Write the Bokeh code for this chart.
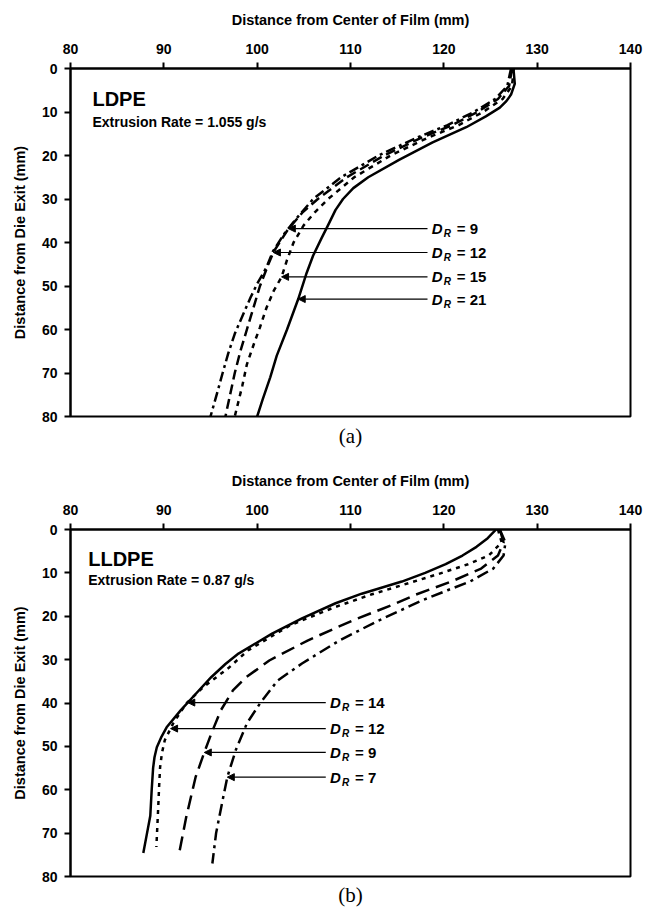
from bokeh.plotting import figure
from bokeh.layouts import column
from bokeh.models import Range1d, Title, Arrow, NormalHead, ColumnDataSource
from bokeh.core.properties import value
from bokeh.embed import file_html
from bokeh.resources import INLINE
import numpy as np

SANS = "Liberation Sans"
SERIF = "Liberation Serif"

x_ticks = [80, 90, 100, 110, 120, 130, 140]
y_ticks = [0, 10, 20, 30, 40, 50, 60, 70, 80]

# ---- LDPE, extrusion rate 1.055 g/s : bubble radius vs. height above die ----
ldpe_y_21 = [0, 1, 3.5, 6, 7.5, 9, 11, 13.5, 17, 21, 25, 27.5, 30, 32.5, 36, 39, 43,
             47, 53, 60, 66, 71, 76, 80]
ldpe_x_21 = [127.4, 127.5, 127.6, 127.2, 126.7, 126.0, 124.5, 122.4, 118.8, 115.2,
             111.9, 110.3, 109.2, 108.4, 107.6, 106.9, 106.0, 105.3, 104.4, 103.2,
             102.1, 101.4, 100.6, 100.0]

ldpe_y_15 = [0, 4, 7, 10, 13, 16, 20, 25, 30, 33, 36, 40, 44, 48, 51, 55, 59.5, 63,
             68, 73, 80]
ldpe_x_15 = [127.5, 127.3, 126.3, 124.2, 121.6, 118.2, 114.3, 110.4, 107.6, 106.2,
             105.0, 103.9, 103.2, 102.6, 101.8, 101.0, 100.3, 99.7, 98.9, 98.4, 97.6]

ldpe_y_12 = [0, 4, 7, 10, 13, 16, 20, 25, 30, 33, 37, 42, 45, 50, 55, 60, 65, 70, 75, 80]
ldpe_x_12 = [127.3, 127.0, 125.8, 123.6, 120.9, 117.5, 113.6, 109.6, 106.5, 104.9,
             103.3, 101.8, 101.2, 100.3, 99.6, 98.9, 98.2, 97.6, 97.1, 96.6]

ldpe_y_9 = [0, 4, 7, 10, 13, 16, 20, 25, 30, 35, 38, 42, 45.7, 49.5, 52.6, 57, 61,
            65.5, 70, 74.7, 80]
ldpe_x_9 = [127.2, 126.8, 125.5, 123.2, 120.4, 117.0, 113.0, 109.0, 106.0, 104.0,
            102.9, 101.7, 101.0, 100.0, 99.3, 98.4, 97.6, 96.9, 96.3, 95.7, 95.0]

# ---- LLDPE, extrusion rate 0.87 g/s ----
lldpe_y_14 = [0, 2, 4, 6, 8, 10, 12, 14.8, 17, 20.5, 24, 28.6, 31, 34, 37, 41.7, 45.6,
              48, 50.2, 52.5, 55, 60, 66, 70, 74.6]
lldpe_x_14 = [125.6, 124.7, 123.5, 122.0, 120.2, 118.0, 115.5, 111.2, 108.4, 104.8,
              101.6, 98.0, 96.6, 95.1, 93.8, 91.8, 90.3, 89.7, 89.25, 89.0, 88.85,
              88.7, 88.55, 88.2, 87.8]

lldpe_y_12 = [0, 3, 6, 8, 10, 12, 15, 18, 22, 27.9, 31.8, 36.4, 40.1, 44.7, 48.6,
              51.5, 54.8, 59, 64, 73.2]
lldpe_x_12 = [125.8, 126.2, 124.8, 122.6, 119.8, 116.8, 112.2, 108.2, 103.6, 99.0,
              97.0, 94.2, 92.4, 91.0, 90.1, 89.8, 89.6, 89.5, 89.4, 89.2]

lldpe_y_9 = [0, 3, 6, 9, 12, 15, 17.1, 21, 25.6, 30.2, 34.1, 37.1, 41.7, 47, 51.6,
             57.1, 66.3, 74]
lldpe_x_9 = [126.0, 126.4, 125.8, 124.0, 120.8, 117.0, 114.8, 110.2, 105.4, 101.3,
             98.8, 97.4, 96.1, 95.1, 94.3, 93.4, 92.4, 91.7]

lldpe_y_7 = [0, 3, 6, 9, 12, 14, 16.4, 21, 25.6, 30.9, 34.8, 40.1, 44.7, 50.9, 57.1,
             62.4, 70, 77]
lldpe_x_7 = [126.0, 126.6, 126.4, 125.3, 122.8, 120.4, 117.6, 113.0, 108.8, 104.8,
             102.2, 100.3, 98.9, 97.7, 96.8, 96.3, 95.6, 95.2]

# draw-ratio callouts: label and height of the arrow
ldpe_labels = ["9", "12", "15", "21"]
ldpe_label_y = [36.8, 42.3, 47.9, 53.0]
lldpe_labels = ["14", "12", "9", "7"]
lldpe_label_y = [39.9, 45.9, 51.4, 57.1]


def style_axes(p):
    p.grid.visible = False
    p.outline_line_color = "black"
    p.outline_line_width = 2
    p.outline_line_alpha = 1
    p.background_fill_color = "white"
    p.border_fill_color = "white"
    for ax in (p.xaxis[0], p.yaxis[0]):
        ax.axis_line_width = 2
        ax.axis_line_color = "black"
        ax.major_tick_line_width = 2
        ax.major_tick_line_color = "black"
        ax.major_tick_out = 6
        ax.major_tick_in = 0
        ax.minor_tick_out = 0
        ax.minor_tick_in = 0
        ax.major_label_text_font = SANS
        ax.major_label_text_font_size = "14px"
        ax.major_label_text_font_style = "bold"
        ax.major_label_text_color = "black"
        ax.axis_label_text_font = SANS
        ax.axis_label_text_font_size = "14.5px"
        ax.axis_label_text_font_style = "bold"
        ax.axis_label_text_color = "black"
    p.xaxis.ticker = x_ticks
    p.yaxis.ticker = y_ticks
    p.xaxis.axis_label = "Distance from Center of Film (mm)"
    p.yaxis.axis_label = "Distance from Die Exit (mm)"
    p.xaxis.major_label_standoff = 9
    p.yaxis.major_label_standoff = 7
    p.xaxis.axis_label_standoff = 13
    p.yaxis.axis_label_standoff = 11


def make_panel(height, borders, caption, caption_gap, material, rate, curves, labels,
               label_y, label_x):
    left, right, top, bottom = borders
    p = figure(width=654, height=height, x_range=Range1d(80, 140),
               y_range=Range1d(80, 0), x_axis_location="above",
               output_backend="svg", toolbar_location=None,
               min_border_left=left, min_border_right=right,
               min_border_top=top, min_border_bottom=bottom)
    style_axes(p)

    for xs, ys, dash in curves:
        p.line(xs, ys, line_color="black", line_width=2.5, line_dash=dash,
               line_cap="butt", line_join="round")

    # material name and extrusion rate
    mx, my_name, my_rate = material[1]
    p.text(x=[mx], y=[my_name], text=[material[0]], text_font=value(SANS),
           text_font_size="20px", text_font_style="bold", text_color="black",
           text_baseline="alphabetic")
    p.text(x=[mx], y=[my_rate], text=[rate], text_font=value(SANS),
           text_font_size="14px", text_font_style="bold", text_color="black",
           text_baseline="alphabetic")

    # arrows from each label to its curve at the same height
    tips = []
    for ly, (xs, ys, _) in zip(label_y, curves):
        tips.append(float(np.interp(ly, ys, xs)))
    n = len(labels)
    src = ColumnDataSource(dict(
        xs=[label_x - 0.45] * n, xe=tips, y=label_y,
        x=[label_x] * n, d=["D"] * n, r=["R"] * n,
        v=["= " + t for t in labels]))
    p.add_layout(Arrow(end=NormalHead(size=7, fill_color="black",
                                      line_color="black", line_width=1),
                       x_start="xs", y_start="y", x_end="xe", y_end="y",
                       line_color="black", line_width=1.2, source=src))
    p.text(x="x", y="y", text="d", source=src, text_font=value(SANS),
           text_font_size="15px", text_font_style="bold italic",
           text_color="black", text_baseline="middle")
    p.text(x="x", y="y", text="r", source=src, text_font=value(SANS),
           text_font_size="10px", text_font_style="bold italic",
           text_color="black", text_baseline="middle", x_offset=12, y_offset=5)
    p.text(x="x", y="y", text="v", source=src, text_font=value(SANS),
           text_font_size="15px", text_font_style="bold",
           text_color="black", text_baseline="middle", x_offset=25)

    p.add_layout(Title(text=caption, align="center", text_font=SERIF,
                       text_font_size="21px", text_font_style="normal",
                       text_color="black", standoff=caption_gap), "below")
    return p


# curves listed in the same order as their callout labels
ldpe_curves = [
    (ldpe_x_9, ldpe_y_9, "10 4 3 4"),
    (ldpe_x_12, ldpe_y_12, "10 5"),
    (ldpe_x_15, ldpe_y_15, "5 5"),
    (ldpe_x_21, ldpe_y_21, "solid"),
]
lldpe_curves = [
    (lldpe_x_14, lldpe_y_14, "solid"),
    (lldpe_x_12, lldpe_y_12, "4 5"),
    (lldpe_x_9, lldpe_y_9, "14 7"),
    (lldpe_x_7, lldpe_y_7, "12 5 3 5"),
]

p1 = make_panel(460, (70, 23, 68, 44), "(a)", 10,
                ("LDPE", (82.35, 7.1, 12.4)), "Extrusion Rate = 1.055 g/s",
                ldpe_curves, ldpe_labels, ldpe_label_y, 118.7)
p2 = make_panel(453, (67, 24, 69, 37), "(b)", 8,
                ("LLDPE", (81.9, 6.7, 11.75)), "Extrusion Rate = 0.87 g/s",
                lldpe_curves, lldpe_labels, lldpe_label_y, 107.8)

layout = column(p1, p2, spacing=0)
open("out.html", "w").write(file_html(layout, INLINE))
